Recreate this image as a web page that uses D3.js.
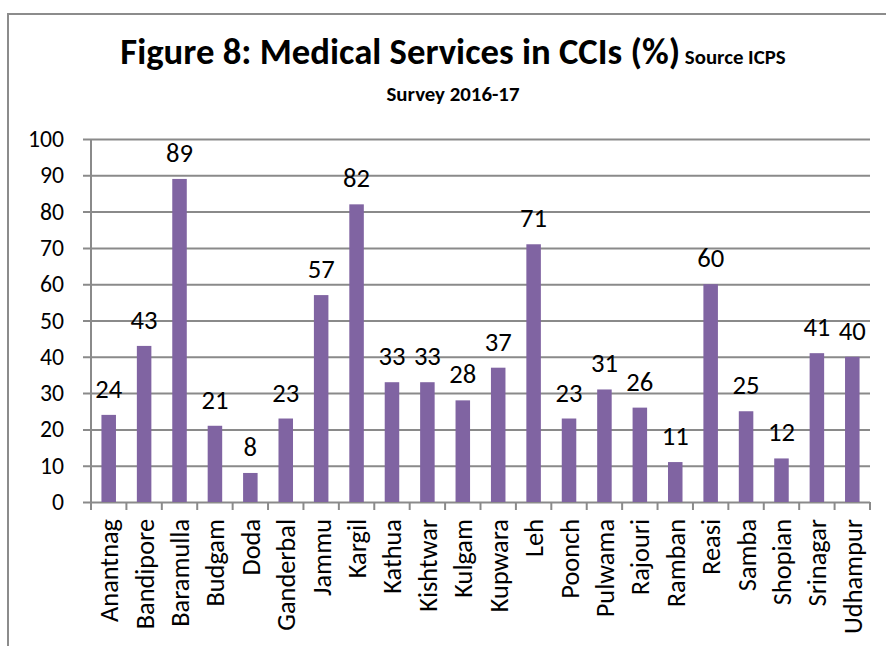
<!DOCTYPE html>
<html>
<head>
<meta charset="utf-8">
<script src="https://cdn.jsdelivr.net/npm/d3@7"></script>
<style>
  html, body { margin: 0; padding: 0; background: #fff; }
  svg { display: block; font-family: Carlito, Calibri, Lato, sans-serif; }
</style>
</head>
<body>
<svg id="chart" width="886" height="646"></svg>
<script>
// Districts and share of CCIs providing medical services (%)
const districts = ["Anantnag", "Bandipore", "Baramulla", "Budgam", "Doda", "Ganderbal",
  "Jammu", "Kargil", "Kathua", "Kishtwar", "Kulgam", "Kupwara", "Leh", "Poonch",
  "Pulwama", "Rajouri", "Ramban", "Reasi", "Samba", "Shopian", "Srinagar", "Udhampur"];
const medicalPct = [24, 43, 89, 21, 8, 23, 57, 82, 33, 33, 28, 37, 71, 23, 31, 26, 11, 60, 25, 12, 41, 40];
const yTicks = [0, 10, 20, 30, 40, 50, 60, 70, 80, 90, 100];

const titleMain = "Figure 8: Medical Services in CCIs (%)";
const titleSource = "Source ICPS";
const titleLine2 = "Survey 2016-17";

const svg = d3.select("#chart");
const W = 886, H = 646;
const plot = { left: 91, right: 870, top: 139, bottom: 502 };
const gridColor = "#8a8a8a";
const barColor = "#8064A2";

// pick a font size so that a sample string spans the wanted width
function sizeFor(str, width, weight) {
  const probe = svg.append("text").attr("font-size", 100).attr("font-weight", weight || "normal").text(str);
  const w = probe.node().getComputedTextLength();
  probe.remove();
  return 100 * width / w;
}
const titleSize = sizeFor(titleMain, 560, "bold");
const smallTitleSize = sizeFor(titleLine2, 133, "bold");
const tickSize = sizeFor("100", 36);
const valueSize = sizeFor("89", 27);
const catSize = sizeFor("Anantnag", 103);

// chart frame (runs off the right and bottom edges)
svg.append("rect")
  .attr("x", 8).attr("y", 14)
  .attr("width", W + 20).attr("height", H + 20)
  .attr("fill", "none").attr("stroke", "#8c8c8c").attr("stroke-width", 2);

// title
const title = svg.append("text")
  .attr("x", 453).attr("y", 64)
  .attr("text-anchor", "middle")
  .attr("font-weight", "bold").attr("fill", "#000");
title.append("tspan").attr("font-size", titleSize).text(titleMain);
title.append("tspan").attr("font-size", smallTitleSize).text(" " + titleSource);

svg.append("text")
  .attr("x", 453).attr("y", 101)
  .attr("text-anchor", "middle")
  .attr("font-weight", "bold").attr("font-size", smallTitleSize)
  .text(titleLine2);

const x = d3.scaleBand().domain(districts).range([plot.left, plot.right]).paddingInner(0).paddingOuter(0);
const y = d3.scaleLinear().domain([0, 100]).range([plot.bottom, plot.top]);

// horizontal gridlines + y axis
const yAxis = d3.axisLeft(y).tickValues(yTicks).tickSize(plot.right - plot.left + 8).tickPadding(19);
const gy = svg.append("g").attr("transform", `translate(${plot.right},0)`).call(yAxis);
gy.select(".domain").remove();
gy.selectAll(".tick line").attr("stroke", gridColor).attr("stroke-width", 2);
gy.selectAll(".tick text")
  .attr("font-size", tickSize).attr("fill", "#000")
  .attr("font-family", "Carlito, Calibri, Lato, sans-serif");

// vertical axis line
svg.append("line")
  .attr("x1", plot.left).attr("x2", plot.left)
  .attr("y1", y(100)).attr("y2", plot.bottom)
  .attr("stroke", gridColor).attr("stroke-width", 2);

// category tick marks at band edges
const edges = districts.map(d => x(d)).concat([plot.right]);
svg.append("g").selectAll("line").data(edges).join("line")
  .attr("x1", d => d).attr("x2", d => d)
  .attr("y1", plot.bottom).attr("y2", plot.bottom + 8)
  .attr("stroke", gridColor).attr("stroke-width", 2);

// bars
const barW = x.bandwidth() * 0.41;
svg.append("g").selectAll("rect").data(medicalPct).join("rect")
  .attr("x", (d, i) => x(districts[i]) + (x.bandwidth() - barW) / 2)
  .attr("y", d => y(d))
  .attr("width", barW)
  .attr("height", d => y(0) - y(d))
  .attr("fill", barColor);

// value labels
svg.append("g").selectAll("text").data(medicalPct).join("text")
  .attr("x", (d, i) => x(districts[i]) + x.bandwidth() / 2)
  .attr("y", d => y(d) - 17)
  .attr("text-anchor", "middle")
  .attr("font-size", valueSize).attr("fill", "#000")
  .text(d => d);

// rotated category labels
svg.append("g").selectAll("text").data(districts).join("text")
  .attr("transform", d => `translate(${x(d) + x.bandwidth() / 2 + catSize * 0.36},${plot.bottom + 17}) rotate(-90)`)
  .attr("text-anchor", "end")
  .attr("font-size", catSize).attr("fill", "#000")
  .text(d => d);
</script>
</body>
</html>
